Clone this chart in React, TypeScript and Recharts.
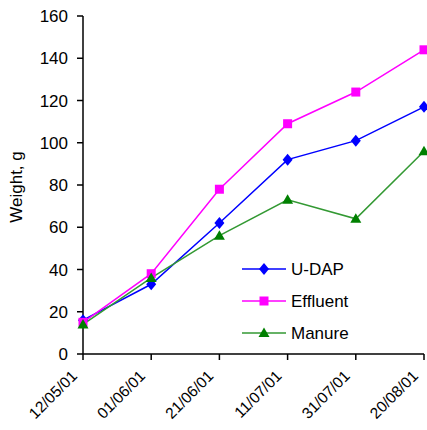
import React from 'react';
import { LineChart, Line, XAxis, YAxis, Legend } from 'recharts';

// Sampling dates (dd/mm/yy) and mean weights in grams per treatment
const dates = ['12/05/01', '01/06/01', '21/06/01', '11/07/01', '31/07/01', '20/08/01'];
const uDap = [16, 33, 62, 92, 101, 117];
const effluent = [15, 38, 78, 109, 124, 144];
const manure = [14, 36, 56, 73, 64, 96];
const yTicks = [0, 20, 40, 60, 80, 100, 120, 140, 160];

const data = dates.map((date, i) => ({
  date,
  uDap: uDap[i],
  effluent: effluent[i],
  manure: manure[i],
}));

const FONT = '"Liberation Sans", Arial, sans-serif';

const Diamond = (props: any) => {
  const { cx, cy, fill } = props;
  if (cx == null || cy == null) return null;
  return <path d={`M${cx},${cy - 6}L${cx + 5},${cy}L${cx},${cy + 6}L${cx - 5},${cy}Z`} fill={fill} />;
};

const Square = (props: any) => {
  const { cx, cy, fill } = props;
  if (cx == null || cy == null) return null;
  return <rect x={cx - 4.5} y={cy - 4.5} width={9} height={9} fill={fill} />;
};

const Triangle = (props: any) => {
  const { cx, cy, fill } = props;
  if (cx == null || cy == null) return null;
  return <path d={`M${cx},${cy - 5.5}L${cx + 5.5},${cy + 4}L${cx - 5.5},${cy + 4}Z`} fill={fill} />;
};

const series = [
  { key: 'uDap', name: 'U-DAP', stroke: '#0000FF', fill: '#0000FF', Marker: Diamond },
  { key: 'effluent', name: 'Effluent', stroke: '#FF00FF', fill: '#FF00FF', Marker: Square },
  { key: 'manure', name: 'Manure', stroke: '#339933', fill: '#008000', Marker: Triangle },
];

const DateTick = (props: any) => {
  const { x, y, payload } = props;
  const tx = x - 5;
  const ty = y + 15;
  return (
    <text
      x={tx}
      y={ty}
      transform={`rotate(-45 ${tx} ${ty})`}
      textAnchor="end"
      fontSize={15.5}
      fontFamily={FONT}
      fill="#000"
    >
      {payload.value}
    </text>
  );
};

const LegendBox = () => (
  <svg width={150} height={100} style={{ display: 'block' }}>
    {series.map((s, i) => {
      const y = 19 + i * 32;
      const M = s.Marker;
      return (
        <g key={s.key}>
          <line x1={2} y1={y} x2={46} y2={y} stroke={s.stroke} strokeWidth={1.5} />
          <M cx={24} cy={y} fill={s.fill} />
          <text x={51} y={y} dy="0.35em" fontSize={17} fontFamily={FONT} fill="#000">
            {s.name}
          </text>
        </g>
      );
    })}
  </svg>
);

const YLabel = (props: any) => {
  const vb = props.viewBox || {};
  const cx = 16;
  const cy = (vb.y ?? 16) + (vb.height ?? 338) / 2 + 2;
  return (
    <text
      x={cx}
      y={cy}
      transform={`rotate(-90 ${cx} ${cy})`}
      textAnchor="middle"
      dominantBaseline="central"
      fontSize={17}
      fontFamily={FONT}
      fill="#000"
    >
      Weight, g
    </text>
  );
};

export default function App() {
  return (
    <div style={{ position: 'absolute', left: 0, top: 0, width: 427, height: 430, background: '#fff' }}>
      <LineChart
        width={427}
        height={430}
        data={data}
        margin={{ top: 16, right: 3, bottom: 0, left: 0 }}
      >
        <XAxis
          dataKey="date"
          height={76}
          interval={0}
          tickSize={6}
          axisLine={{ stroke: '#000', strokeWidth: 1.5 }}
          tickLine={{ stroke: '#000', strokeWidth: 1.5 }}
          tick={<DateTick />}
        />
        <YAxis
          width={83}
          domain={[0, 160]}
          ticks={yTicks}
          interval={0}
          tickSize={6}
          tickMargin={9}
          axisLine={{ stroke: '#000', strokeWidth: 1.5 }}
          tickLine={{ stroke: '#000', strokeWidth: 1.5 }}
          tick={{ fill: '#000', fontSize: 17, fontFamily: FONT }}
          label={{ content: (p: any) => <YLabel {...p} /> }}
        />
        <Legend
          layout="vertical"
          align="center"
          verticalAlign="middle"
          content={() => <LegendBox />}
          wrapperStyle={{ position: 'absolute', left: 240, top: 250, width: 150, height: 100 }}
        />
        {series.map((s) => (
          <Line
            key={s.key}
            type="linear"
            dataKey={s.key}
            name={s.name}
            stroke={s.stroke}
            strokeWidth={1.5}
            dot={<s.Marker fill={s.fill} />}
            activeDot={false}
            isAnimationActive={false}
          />
        ))}
      </LineChart>
    </div>
  );
}
